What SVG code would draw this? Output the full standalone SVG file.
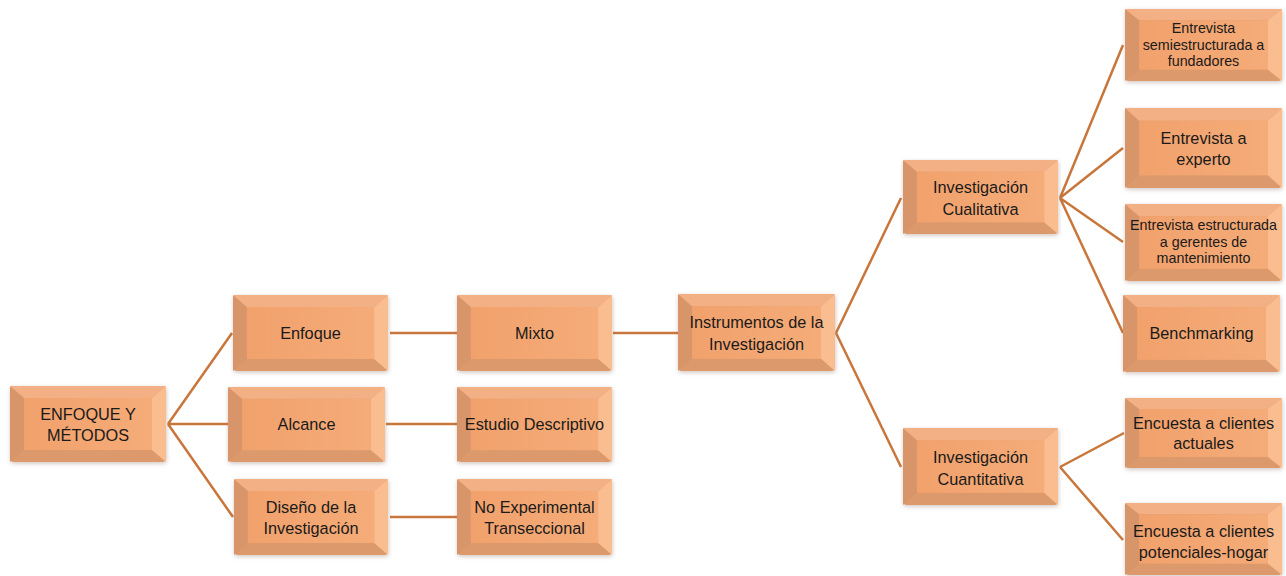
<svg xmlns="http://www.w3.org/2000/svg" xmlns:xlink="http://www.w3.org/1999/xlink" width="1286" height="576" viewBox="0 0 1286 576">
  <style>
    .edge { fill: none; stroke: #C8763C; stroke-width: 2.5; stroke-linecap: butt; }
    .lbl { font-family: "Liberation Sans", Arial, sans-serif; font-size: 16.3px; fill: #1a1a1a; text-anchor: middle; }
    .sm { font-size: 14.3px; }
    .box { filter: url(#glow); }
  </style>
  <defs>
    <filter id="glow" x="-10%" y="-15%" width="120%" height="135%">
      <feDropShadow dx="0.5" dy="1.5" stdDeviation="2" flood-color="#8a7060" flood-opacity="0.4"/>
    </filter>
    <linearGradient id="face" x1="0" y1="0" x2="1" y2="0">
      <stop offset="0" stop-color="#F1A16C"/>
      <stop offset="1" stop-color="#F5AC78"/>
    </linearGradient>
    <!-- bevelled orange tile: bottom, left, top, right faces around a flat centre -->
    <symbol id="tile" viewBox="0 0 156 76" preserveAspectRatio="none">
      <rect x="0" y="0" width="156" height="76" rx="4" fill="#DC9A6C"/>
      <polygon points="0,0 14,12 14,64 0,76" fill="#D9956A"/>
      <polygon points="0,0 156,0 142,12 14,12" fill="#F4B085"/>
      <polygon points="156,0 156,76 142,64 142,12" fill="#F9BD90"/>
      <rect x="14" y="12" width="128" height="52" fill="url(#face)"/>
    </symbol>
  </defs>

  <g id="connectors">
    <path class="edge" d="M168,424 L232,333 M168,424 L228,424 M168,424 L233,517"/>
    <path class="edge" d="M390,333 L457,333 M386,424 L457,424 M390,517 L457,517"/>
    <path class="edge" d="M613,333 L678,333"/>
    <path class="edge" d="M836,333 L901,198 M836,333 L901,467"/>
    <path class="edge" d="M1060,198 L1123,45 M1060,198 L1123,148 M1060,198 L1123,242 M1060,198 L1123,333"/>
    <path class="edge" d="M1060,467 L1124,433 M1060,467 L1123,540"/>
  </g>

  <g id="n-root">
    <use class="box" href="#tile" x="10" y="386" width="156" height="76"/>
    <text class="lbl" x="88" y="420">ENFOQUE Y</text>
    <text class="lbl" x="88" y="441">MÉTODOS</text>
  </g>
  <g id="n-enfoque">
    <use class="box" href="#tile" x="233" y="295" width="155" height="76"/>
    <text class="lbl" x="310.5" y="338.5">Enfoque</text>
  </g>
  <g id="n-alcance">
    <use class="box" href="#tile" x="228" y="387" width="157" height="75"/>
    <text class="lbl" x="306.5" y="430">Alcance</text>
  </g>
  <g id="n-diseno">
    <use class="box" href="#tile" x="234" y="479" width="154" height="76"/>
    <text class="lbl" x="311" y="513">Diseño de la</text>
    <text class="lbl" x="311" y="534">Investigación</text>
  </g>
  <g id="n-mixto">
    <use class="box" href="#tile" x="457" y="295" width="155" height="76"/>
    <text class="lbl" x="534.5" y="338.5">Mixto</text>
  </g>
  <g id="n-estudio">
    <use class="box" href="#tile" x="457" y="387" width="155" height="75"/>
    <text class="lbl" x="534.5" y="430">Estudio Descriptivo</text>
  </g>
  <g id="n-noexp">
    <use class="box" href="#tile" x="457" y="479" width="155" height="76"/>
    <text class="lbl" x="534.5" y="513">No Experimental</text>
    <text class="lbl" x="534.5" y="534">Transeccional</text>
  </g>
  <g id="n-instrumentos">
    <use class="box" href="#tile" x="678" y="294" width="157" height="77"/>
    <text class="lbl" x="756.5" y="328">Instrumentos de la</text>
    <text class="lbl" x="756.5" y="350">Investigación</text>
  </g>
  <g id="n-cualitativa">
    <use class="box" href="#tile" x="903" y="160" width="155" height="74"/>
    <text class="lbl" x="980.5" y="193">Investigación</text>
    <text class="lbl" x="980.5" y="215">Cualitativa</text>
  </g>
  <g id="n-cuantitativa">
    <use class="box" href="#tile" x="903" y="428" width="155" height="77"/>
    <text class="lbl" x="980.5" y="463">Investigación</text>
    <text class="lbl" x="980.5" y="485">Cuantitativa</text>
  </g>
  <g id="n-semi">
    <use class="box" href="#tile" x="1125" y="9" width="157" height="72"/>
    <text class="lbl sm" x="1203.5" y="33">Entrevista</text>
    <text class="lbl sm" x="1203.5" y="50">semiestructurada a</text>
    <text class="lbl sm" x="1203.5" y="66">fundadores</text>
  </g>
  <g id="n-experto">
    <use class="box" href="#tile" x="1125" y="108" width="157" height="80"/>
    <text class="lbl" x="1203.5" y="144">Entrevista a</text>
    <text class="lbl" x="1203.5" y="165">experto</text>
  </g>
  <g id="n-estructurada">
    <use class="box" href="#tile" x="1125" y="204" width="157" height="77"/>
    <text class="lbl sm" x="1203.5" y="230">Entrevista estructurada</text>
    <text class="lbl sm" x="1203.5" y="246.5">a gerentes de</text>
    <text class="lbl sm" x="1203.5" y="262.5">mantenimiento</text>
  </g>
  <g id="n-bench">
    <use class="box" href="#tile" x="1123" y="295" width="157" height="77"/>
    <text class="lbl" x="1201.5" y="339">Benchmarking</text>
  </g>
  <g id="n-actuales">
    <use class="box" href="#tile" x="1125" y="398" width="157" height="70"/>
    <text class="lbl" x="1203.5" y="429">Encuesta a clientes</text>
    <text class="lbl" x="1203.5" y="449">actuales</text>
  </g>
  <g id="n-potenciales">
    <use class="box" href="#tile" x="1125" y="503" width="157" height="72"/>
    <text class="lbl" x="1203.5" y="537">Encuesta a clientes</text>
    <text class="lbl" x="1203.5" y="558">potenciales-hogar</text>
  </g>
</svg>
